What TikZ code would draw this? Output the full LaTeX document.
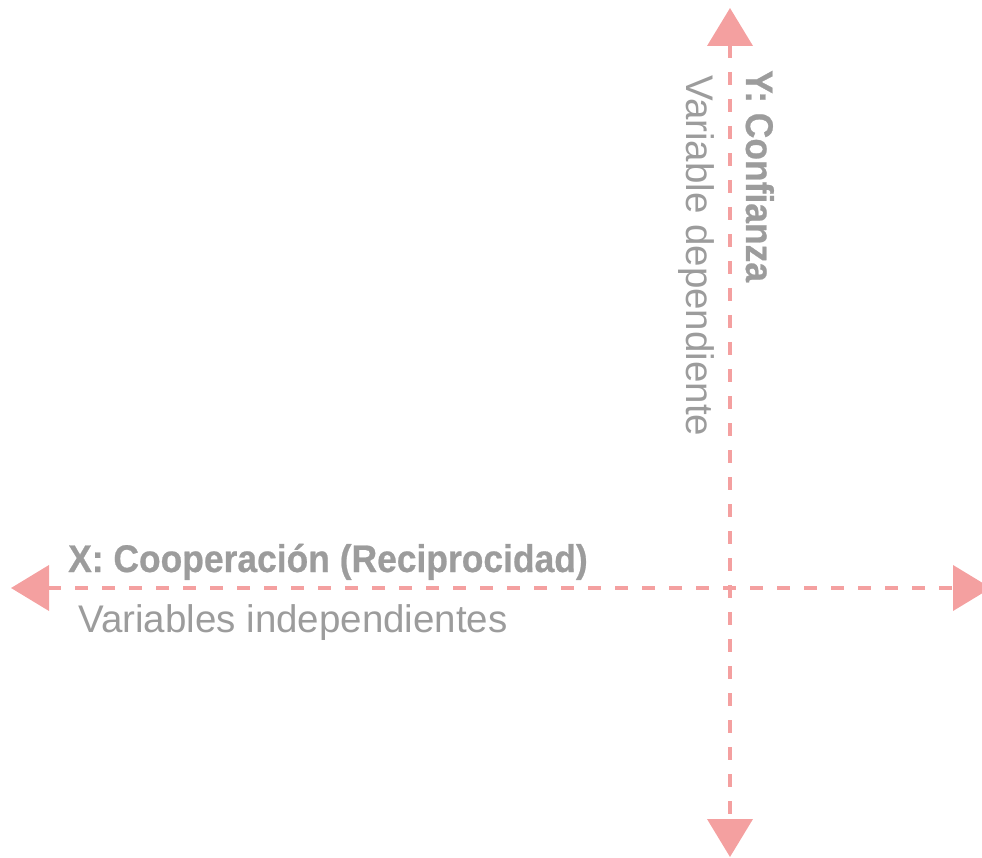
\documentclass[tikz,border=0pt]{standalone}
\usepackage{fontspec}
\setmainfont{Liberation Sans}
\newfontfamily\labelbold[FakeStretch=0.92,FakeBold=0.6]{Liberation Sans Bold}
\usetikzlibrary{arrows.meta}
\definecolor{axispink}{HTML}{F4A0A0}
\definecolor{labelgray}{HTML}{9C9C9C}
\tikzset{
  axisline/.style={draw=axispink,line width=4pt,dash pattern=on 13pt off 14pt,
    {Triangle[length=38pt,width=45pt,fill=axispink]}-{Triangle[length=38pt,width=45pt,fill=axispink]}},
  axistitle/.style={inner sep=0pt,text=labelgray,font=\labelbold\fontsize{38.5}{40}\selectfont},
  axisnote/.style={inner sep=0pt,text=labelgray,font=\fontsize{38.5}{40}\selectfont}
}
\begin{document}
\begin{tikzpicture}[x=1pt,y=-1pt]
        \clip (0,0) rectangle (982,858);
        \coordinate (xl) at (11,588);
        \coordinate (xr) at (991,588);
        \coordinate (yt) at (730,8);
        \coordinate (yb) at (730,857);
        \draw[axisline] (xl) -- (xr);
        \draw[axisline] (yt) -- (yb);
        \node[axistitle,anchor=base west] (xtitle) at (68,572) {X: Cooperación (Reciprocidad)};
        \node[axisnote,anchor=base west] (xnote) at (78,632) {Variables independientes};
        \node[axistitle,rotate=-90,anchor=base west] (ytitle) at (746,70) {Y: Confianza};
        \node[axisnote,rotate=-90,anchor=base west] (ynote) at (686,75) {Variable dependiente};
    \end{tikzpicture}
\end{document}
